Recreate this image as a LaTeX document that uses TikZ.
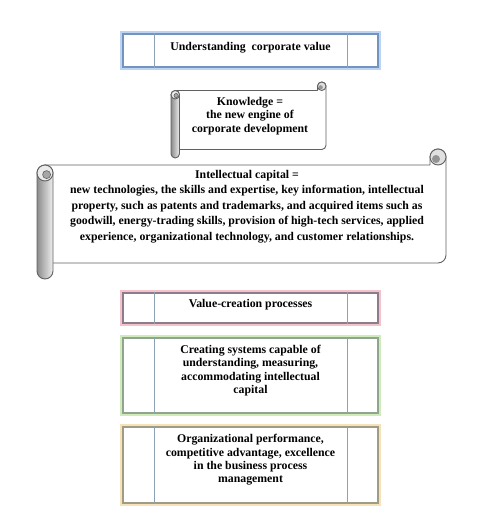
\documentclass[tikz,border=0pt]{standalone}
\usepackage{fontspec}
\setmainfont{Liberation Serif}
\usetikzlibrary{calc}
\usetikzlibrary{math}

\definecolor{glowBlue}{HTML}{BCD4F0}
\definecolor{edgeBlue}{HTML}{7394C0}
\definecolor{glowPink}{HTML}{F4C2CA}
\definecolor{edgePink}{HTML}{8C7C8C}
\definecolor{glowGreen}{HTML}{D0EABA}
\definecolor{edgeGreen}{HTML}{8EA68E}
\definecolor{glowTan}{HTML}{F5E1BA}
\definecolor{edgeTan}{HTML}{A09C84}
\definecolor{divGray}{HTML}{8CA2B2}

\tikzset{
  cbox/.style 2 args={draw=#1, line width=1.1pt, fill=white, minimum width=255pt,
    inner sep=0pt, preaction={draw=#2, line width=5.5pt}},
  divline/.style={draw=divGray, line width=0.8pt},
  lbl/.style={align=center, inner sep=0pt,
    font=\bfseries\fontsize{11.8}{13.3}\selectfont},
  scrl/.style={draw=black!62, line width=0.9pt, line join=round},
}

% horizontal scroll: left, top, right, bottom, roll width
\newcommand\hscroll[5]{%
  \tikzmath{
    \sL = #1; \sT = #2; \sR = #3; \sB = #4; \sC = #5;
    \sH = \sC/2; \sQ = \sC/4;
  }
  \path[scrl, fill=white] (\sL+\sH,\sT+\sC) -- (\sR-\sC,\sT+\sC) -- (\sR-\sC,\sT+\sH)
    arc (180:360:\sH) -- (\sR,\sB-\sC-\sH) arc (0:90:\sH) -- (\sL+\sH,\sB-\sC) -- cycle;
  \draw[scrl, fill=black!12] (\sR-\sH,\sT+\sH) circle (\sH);
  \fill[black!42] (\sR-\sH-\sQ*0.5,\sT+\sH+\sQ*0.5) circle (\sQ);
  \path[scrl, left color=black!45, right color=black!6]
    (\sL,\sT+\sC+\sH) -- (\sL,\sB-\sH) arc (180:0:\sH)
    -- (\sL+\sC,\sT+\sC+\sH) arc (0:-180:\sH) -- cycle;
  \draw[scrl, fill=black!8] (\sL+\sH,\sT+\sC+\sH) circle (\sH);
  \draw[scrl, line width=0.6pt, fill=black!35] (\sL+\sH+\sQ*0.4,\sT+\sC+\sH+\sQ*0.4) circle (\sQ);
}

\begin{document}
\begin{tikzpicture}[x=1pt, y=-1pt]
\useasboundingbox[fill=white] (0,0) rectangle (485,526);

% scrolls
\hscroll{171}{82}{326}{158}{8.5}
\hscroll{37}{149}{446}{279}{16}

\node[lbl] (knowledge) at (250,116) {Knowledge =\\the new engine of\\corporate development};
\node[lbl, font=\bfseries\fontsize{11.8}{15.5}\selectfont] (capital) at (247,206.5)
  {Intellectual capital =\\
   new technologies, the skills and expertise, key information, intellectual\\
   property, such as patents and trademarks, and acquired items such as\\
   goodwill, energy-trading skills, provision of high-tech services, applied\\
   experience, organizational technology, and customer relationships.};

% boxes
\node[cbox={edgeBlue}{glowBlue},   minimum height=33pt] (understand) at (250.5,50.5) {};
\node[cbox={edgePink}{glowPink},   minimum height=30pt] (process)    at (250.5,308) {};
\node[cbox={edgeGreen}{glowGreen}, minimum height=75pt] (systems)    at (250.5,375.5) {};
\node[cbox={edgeTan}{glowTan},     minimum height=76pt] (perform)    at (250.5,465) {};

\foreach \b in {understand,process,systems,perform}{
  \draw[divline] ([xshift=32pt]\b.north west) -- ([xshift=32pt]\b.south west);
  \draw[divline] ([xshift=-31pt]\b.north east) -- ([xshift=-31pt]\b.south east);
}

\node[lbl] (understand text) at ([yshift=3pt]understand.center) {Understanding\ \ corporate value};
\node[lbl] (process text)    at ([yshift=3.5pt]process.center) {Value-creation processes};
\node[lbl] (systems text)    at ([yshift=5pt]systems.center)
  {Creating systems capable of\\understanding, measuring,\\accommodating intellectual\\capital};
\node[lbl] (perform text)    at ([yshift=5pt]perform.center)
  {Organizational performance,\\competitive advantage, excellence\\in the business process\\management};

\end{tikzpicture}
\end{document}
